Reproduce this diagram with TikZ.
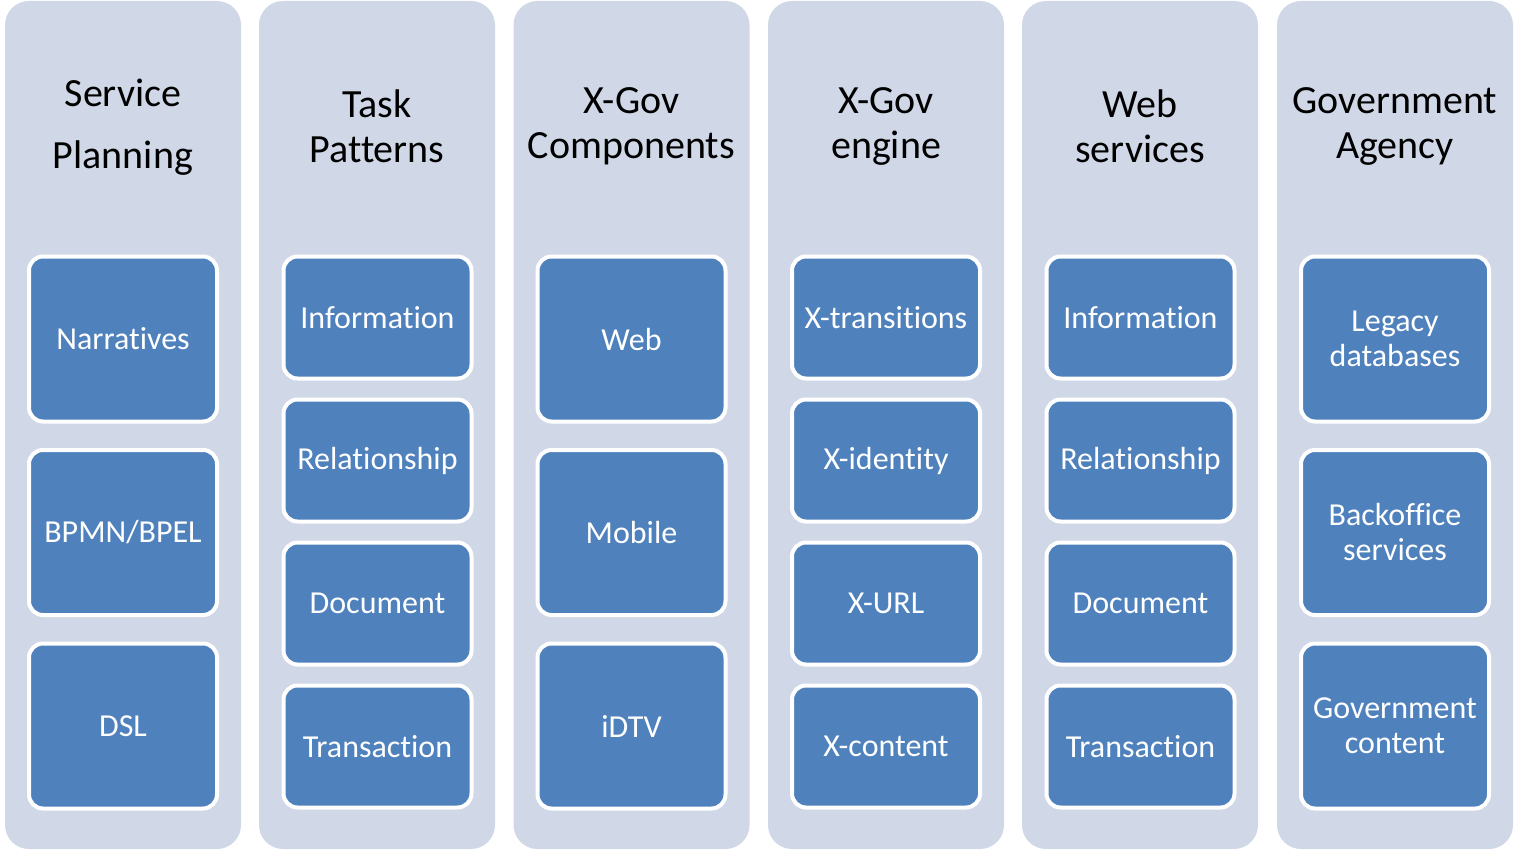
\documentclass[tikz,border=0pt]{standalone}
\usepackage{fontspec}
\setmainfont[Ligatures=NoCommon]{Carlito}
\usetikzlibrary{positioning}

\definecolor{laneblue}{HTML}{D0D8E8}
\definecolor{itemblue}{HTML}{4F81BD}

\tikzset{
  lane/.style={fill=laneblue, rounded corners=24pt, inner sep=0pt,
    minimum width=236pt, minimum height=848pt},
  lanetitle/.style={align=center, font=\fontsize{40}{45}\selectfont},
  item/.style={fill=itemblue, draw=white, line width=4pt, rounded corners=14pt,
    minimum width=188pt, text=white, align=center,
    font=\fontsize{32}{35}\selectfont},
  tallitem/.style={item, minimum height=165pt},
  shortitem/.style={item, minimum height=122pt},
}

\begin{document}
\begin{tikzpicture}[x=1pt, y=-1pt]
  \useasboundingbox (0,0) rectangle (1518,851);

  % lanes
  \node[lane] (plan) at (123,425) {};
  \node[lane] (task) at (377,425) {};
  \node[lane] (comp) at (631.5,425) {};
  \node[lane] (engine) at (886,425) {};
  \node[lane] (ws) at (1140,425) {};
  \node[lane] (agency) at (1395,425) {};

  % titles
  \node[lanetitle] (plan-t) at (123,127) {Service\\[17pt]Planning};
  \node[lanetitle] (task-t) at (377,126) {Task\\Patterns};
  \node[lanetitle] (comp-t) at (631.5,126) {X-Gov\\Components};
  \node[lanetitle] (engine-t) at (886,126) {X-Gov\\engine};
  \node[lanetitle] (ws-t) at (1140,126) {Web\\services};
  \node[lanetitle] (agency-t) at (1395,126) {Government\\Agency};

  % service planning
  \node[tallitem] (narr) at (123,339) {Narratives};
  \node[tallitem, below=24.5pt of narr] (bpmn) {BPMN/BPEL};
  \node[tallitem, below=24.5pt of bpmn] (dsl) {DSL};

  % task patterns
  \node[shortitem] (tinfo) at (377.5,317.5) {Information};
  \node[shortitem, below=17pt of tinfo] (trel) {Relationship};
  \node[shortitem, below=17pt of trel] (tdoc) {Document};
  \node[shortitem, below=17pt of tdoc] (ttrans) {Transaction};

  % components
  \node[tallitem] (web) at (631.5,339) {Web};
  \node[tallitem, below=24.5pt of web] (mobile) {Mobile};
  \node[tallitem, below=24.5pt of mobile] (idtv) {iDTV};

  % engine
  \node[shortitem] (xtrans) at (886,317.5) {X-transitions};
  \node[shortitem, below=17pt of xtrans] (xid) {X-identity};
  \node[shortitem, below=17pt of xid] (xurl) {X-URL};
  \node[shortitem, below=17pt of xurl] (xcont) {X-content};

  % web services
  \node[shortitem] (winfo) at (1140.5,317.5) {Information};
  \node[shortitem, below=17pt of winfo] (wrel) {Relationship};
  \node[shortitem, below=17pt of wrel] (wdoc) {Document};
  \node[shortitem, below=17pt of wdoc] (wtrans) {Transaction};

  % agency
  \node[tallitem] (legacy) at (1395,339) {Legacy\\databases};
  \node[tallitem, below=24.5pt of legacy] (back) {Backoffice\\services};
  \node[tallitem, below=24.5pt of back] (gov) {Government\\content};
\end{tikzpicture}
\end{document}
